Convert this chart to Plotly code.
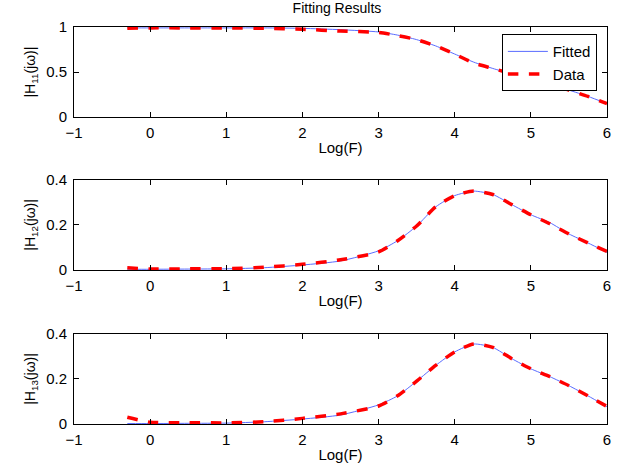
import plotly.graph_objects as go
from plotly.subplots import make_subplots

log_f = [-0.3, 0, 0.5, 1, 1.5, 2, 2.5, 3, 3.25, 3.5, 3.75, 4, 4.25, 4.5, 4.75, 5, 5.25, 5.5, 5.75, 6]

h11_fitted = [0.99, 0.99, 0.99, 0.99, 0.99, 0.985, 0.97, 0.945, 0.91, 0.86, 0.79, 0.70, 0.61, 0.54, 0.48, 0.43, 0.37, 0.30, 0.23, 0.15]
h11_data = [0.985, 0.99, 0.99, 0.99, 0.985, 0.975, 0.955, 0.94, 0.905, 0.86, 0.79, 0.70, 0.60, 0.54, 0.48, 0.43, 0.37, 0.30, 0.23, 0.15]

h12_fitted = [0.003, 0.003, 0.004, 0.005, 0.01, 0.022, 0.04, 0.085, 0.13, 0.195, 0.28, 0.33, 0.35, 0.335, 0.29, 0.245, 0.21, 0.16, 0.12, 0.078]
h12_data = [0.01, 0.004, 0.005, 0.006, 0.012, 0.025, 0.045, 0.08, 0.13, 0.195, 0.28, 0.33, 0.35, 0.335, 0.29, 0.245, 0.205, 0.16, 0.12, 0.082]

h13_fitted = [0.002, 0.002, 0.003, 0.004, 0.01, 0.022, 0.04, 0.085, 0.125, 0.19, 0.26, 0.32, 0.355, 0.34, 0.29, 0.245, 0.21, 0.17, 0.125, 0.077]
h13_data = [0.03, 0.008, 0.006, 0.005, 0.01, 0.025, 0.045, 0.08, 0.125, 0.19, 0.26, 0.32, 0.355, 0.34, 0.29, 0.245, 0.21, 0.17, 0.125, 0.078]

x_ticks = [-1, 0, 1, 2, 3, 4, 5, 6]
y_labels = ["|H<sub>11</sub>(jω)|", "|H<sub>12</sub>(jω)|", "|H<sub>13</sub>(jω)|"]
y_ranges = [[0, 1], [0, 0.4], [0, 0.4]]
y_ticks = [[0, 0.5, 1], [0, 0.2, 0.4], [0, 0.2, 0.4]]

FONT = "Liberation Sans, Arial, Helvetica, sans-serif"

fig = make_subplots(rows=3, cols=1)
series = [(h11_fitted, h11_data), (h12_fitted, h12_data), (h13_fitted, h13_data)]
for i, (fit, dat) in enumerate(series, start=1):
    fig.add_trace(go.Scatter(x=log_f, y=fit, mode="lines", name="Fitted",
                             line=dict(color="#5a6cff", width=1, shape="spline", smoothing=0.6),
                             showlegend=(i == 1)), row=i, col=1)
    fig.add_trace(go.Scatter(x=log_f, y=dat, mode="lines", name="Data",
                             line=dict(color="#ff0000", width=3.5, dash="dash", shape="spline", smoothing=0.6),
                             showlegend=(i == 1)), row=i, col=1)

# plot area: x 74..607, y 27..424 (px) in a 624x472 page
domains = [[0.773, 1.0], [0.388, 0.615], [0.0, 0.227]]
for i in range(3):
    xa = "xaxis" if i == 0 else f"xaxis{i+1}"
    ya = "yaxis" if i == 0 else f"yaxis{i+1}"
    fig.layout[xa].update(range=[-1, 6], tickvals=x_ticks,
                          ticktext=["\u22121" if t == -1 else str(t) for t in x_ticks],
                          ticks="inside", ticklen=5, tickcolor="black", showline=True, linecolor="black",
                          linewidth=1, mirror="ticks", showgrid=False, zeroline=False,
                          ticklabelstandoff=2,
                          title=dict(text="Log(F)", standoff=2, font=dict(size=15, family=FONT)),
                          tickfont=dict(size=15, family=FONT, color="black"))
    fig.layout[ya].update(domain=domains[i], range=y_ranges[i], tickvals=y_ticks[i],
                          ticks="inside", ticklen=5, tickcolor="black", showline=True, linecolor="black",
                          linewidth=1, mirror="ticks", showgrid=False, zeroline=False,
                          ticklabelstandoff=3,
                          title=dict(text=y_labels[i], standoff=7, font=dict(size=14, family=FONT)),
                          tickfont=dict(size=15, family=FONT, color="black"))

fig.update_layout(
    width=624, height=472,
    margin=dict(l=74, r=17, t=27, b=48),
    paper_bgcolor="white", plot_bgcolor="white",
    font=dict(family=FONT, color="black"),
    title=dict(text="Fitting Results", x=0.54, xanchor="center", y=0.994, yanchor="top",
               font=dict(size=14, family=FONT, color="black")),
    legend=dict(x=0.981, y=0.982, xanchor="right", yanchor="top", bgcolor="white",
                bordercolor="black", borderwidth=1, font=dict(size=15, family=FONT),
                tracegroupgap=0, itemwidth=40),
)

fig.write_html("out.html", config={"displayModeBar": False},
               post_script="document.body.style.margin='0';")
